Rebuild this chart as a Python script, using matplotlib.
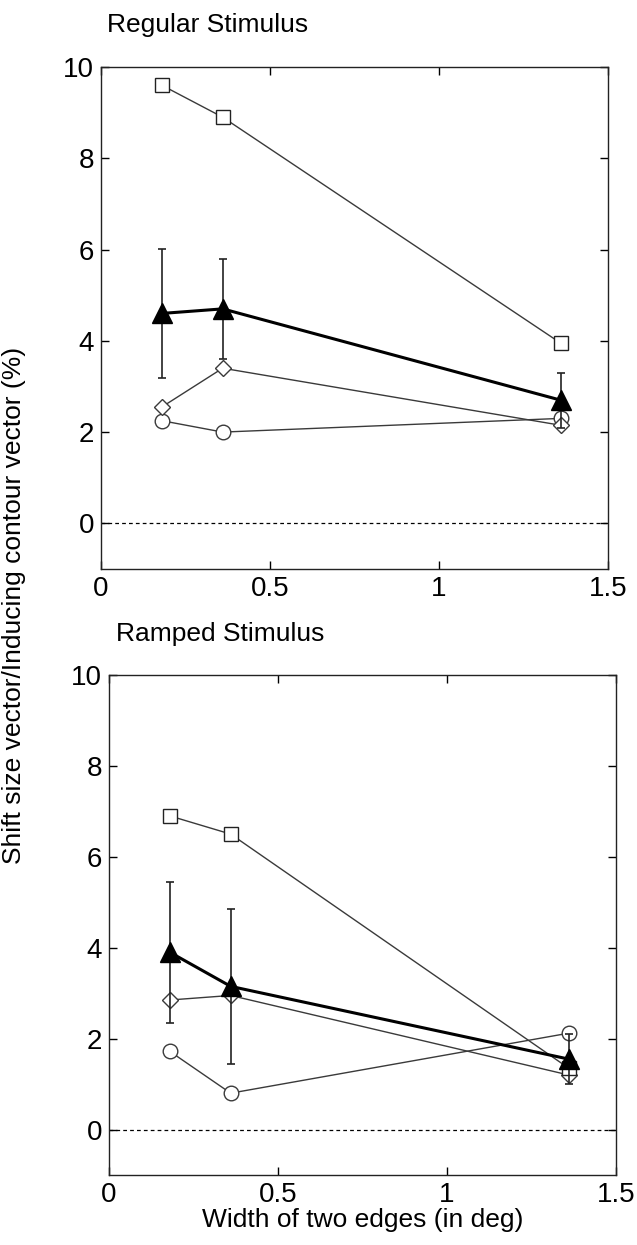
import matplotlib
matplotlib.use("Agg")
import matplotlib.pyplot as plt

plt.rcParams['font.family'] = ['Liberation Sans', 'DejaVu Sans']

x = [0.18, 0.36, 1.36]

# Regular stimulus
reg_square = [9.6, 8.9, 3.95]
reg_tri = [4.6, 4.7, 2.7]
reg_tri_err = [1.42, 1.1, 0.6]
reg_diamond = [2.55, 3.4, 2.15]
reg_circle = [2.25, 2.0, 2.3]

# Ramped stimulus
ramp_square = [6.9, 6.5, 1.35]
ramp_tri = [3.9, 3.15, 1.55]
ramp_tri_err = [1.55, 1.7, 0.55]
ramp_diamond = [2.85, 2.95, 1.2]
ramp_circle = [1.72, 0.8, 2.12]

xticks = [0, 0.5, 1, 1.5]
xticklabels = ['0', '0.5', '1', '1.5']
yticks = [0, 2, 4, 6, 8, 10]

W, H = 637, 1245
fig = plt.figure(figsize=(W / 100, H / 100), dpi=100)

def ax_rect(l, r, t, b):
    return [l / W, 1 - b / H, (r - l) / W, (b - t) / H]

ax1 = fig.add_axes(ax_rect(101, 608, 67, 569))
ax2 = fig.add_axes(ax_rect(109, 616, 675, 1175))

gray = '#3a3a3a'
FS = 19
TFS = 20

def draw(ax, sq, tri, err, dia, cir, title, tx):
    ax.axhline(0, color='black', lw=0.9, ls=(0, (3, 2.5)), zorder=1)
    ax.plot(x, cir, color=gray, lw=1.0, marker='o', ms=10.5, mfc='white', mec=gray, mew=1.0, zorder=3)
    ax.plot(x, dia, color=gray, lw=1.0, marker='D', ms=8.5, mfc='white', mec=gray, mew=1.0, zorder=3)
    ax.plot(x, sq, color=gray, lw=1.0, marker='s', ms=10, mfc='white', mec='#222222', mew=1.0, zorder=3)
    ax.errorbar(x, tri, yerr=err, color='black', lw=2.2, marker='^', ms=14,
                mfc='black', mec='black', ecolor='#222222', elinewidth=1.2,
                capsize=3, capthick=1.2, zorder=4)
    ax.set_xlim(0, 1.5)
    ax.set_ylim(-1, 10)
    ax.set_xticks(xticks)
    ax.set_xticklabels(xticklabels)
    ax.set_yticks(yticks)
    ax.tick_params(direction='in', top=True, right=True, length=6, width=1,
                   labelsize=TFS, pad=5)
    for s in ax.spines.values():
        s.set_linewidth(1.0)
        s.set_color('#222222')
    fig.text(tx[0] / W, 1 - tx[1] / H, title, fontsize=FS, ha='left', va='center')

draw(ax1, reg_square, reg_tri, reg_tri_err, reg_diamond, reg_circle, 'Regular Stimulus', (107, 25))
draw(ax2, ramp_square, ramp_tri, ramp_tri_err, ramp_diamond, ramp_circle, 'Ramped Stimulus', (116, 634))

ax2.set_xlabel('Width of two edges (in deg)', fontsize=FS, labelpad=0)
fig.text(14 / W, 1 - 605 / H, 'Shift size vector/Inducing contour vector (%)',
         rotation=90, fontsize=FS, ha='center', va='center')

fig.savefig('out.png', dpi=100)
